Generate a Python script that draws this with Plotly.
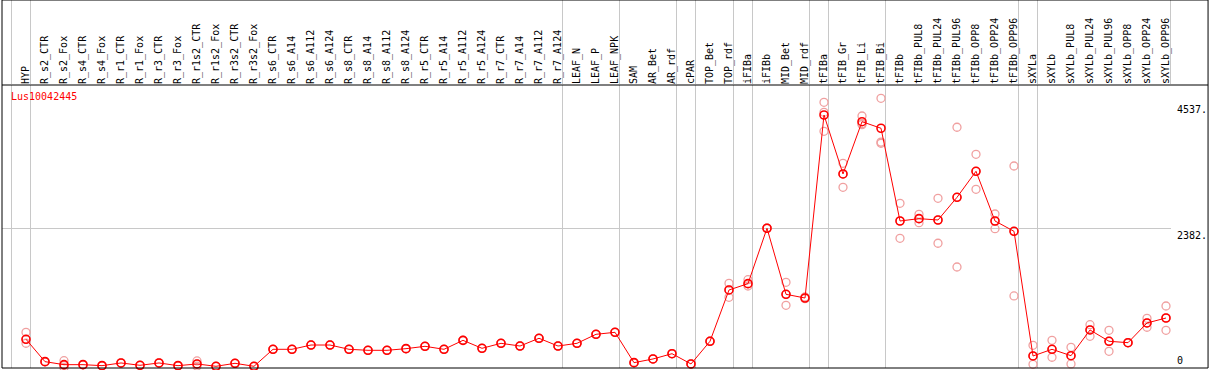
import plotly.graph_objects as go

categories = ["HYP", "R_s2_CTR", "R_s2_Fox", "R_s4_CTR", "R_s4_Fox", "R_r1_CTR", "R_r1_Fox",
              "R_r3_CTR", "R_r3_Fox", "R_r1s2_CTR", "R_r1s2_Fox", "R_r3s2_CTR", "R_r3s2_Fox",
              "R_s6_CTR", "R_s6_A14", "R_s6_A112", "R_s6_A124", "R_s8_CTR", "R_s8_A14", "R_s8_A112",
              "R_s8_A124", "R_r5_CTR", "R_r5_A14", "R_r5_A112", "R_r5_A124", "R_r7_CTR", "R_r7_A14",
              "R_r7_A112", "R_r7_A124", "LEAF_N", "LEAF_P", "LEAF_NPK", "SAM", "AR_Bet", "AR_rdf",
              "cPAR", "TOP_Bet", "TOP_rdf", "iFIBa", "iFIBb", "MID_Bet", "MID_rdf", "tFIBa",
              "tFIB_Gr", "tFIB_Li", "tFIB_Bi", "tFIBb", "tFIBb_PUL8", "tFIBb_PUL24", "tFIBb_PUL96",
              "tFIBb_OPP8", "tFIBb_OPP24", "tFIBb_OPP96", "sXYLa", "sXYLb", "sXYLb_PUL8",
              "sXYLb_PUL24", "sXYLb_PUL96", "sXYLb_OPP8", "sXYLb_OPP24", "sXYLb_OPP96"]

mean_values = [488, 106, 55, 55, 38, 84, 44, 84, 38, 67, 27, 78, 27,
               317, 317, 390, 390, 317, 300, 300, 328, 368, 317, 470, 334, 419, 373, 505, 373,
               419, 573, 607, 89, 152, 242, 67, 454, 1329, 1437, 2382, 1255, 1192,
               4314, 3308, 4200, 4088, 2506, 2546, 2523, 2910, 3354, 2506, 2330,
               203, 317, 208, 647, 454, 430, 766, 851]

replicate_values = [
    [607, 488, 420], [106, 106, 106], [123, 40, 5], [55, 55, 55], [38, 38, 38],
    [84, 84, 84], [44, 44, 44], [84, 84, 84], [38, 38, 38], [118, 67, 30],
    [27, 27, 27], [78, 78, 78], [27, 27, 27], [317, 317, 317], [317, 317, 317],
    [390, 390, 390], [390, 390, 390], [317, 317, 317], [300, 300, 300], [300, 300, 300],
    [328, 328, 328], [368, 368, 368], [317, 317, 317], [470, 470, 470], [334, 334, 334],
    [419, 419, 419], [373, 373, 373], [505, 505, 505], [373, 373, 373], [419, 419, 419],
    [573, 573, 573], [607, 607, 607], [89, 89, 89], [152, 152, 152], [242, 242, 242],
    [67, 67, 67], [454, 454, 454], [1443, 1329, 1204], [1505, 1437, 1397], [2382, 2382, 2382],
    [1460, 1255, 1068], [1210, 1192, 1180], [4531, 4360, 4036], [3490, 3308, 3081],
    [4297, 4166, 4150], [4599, 3852, 3832], [2808, 2506, 2211], [2620, 2546, 2477],
    [2893, 2523, 2126], [4105, 2910, 1721], [3644, 3354, 3047], [2625, 2506, 2375],
    [3444, 2330, 1227], [385, 203, 61], [470, 317, 181], [351, 208, 67], [737, 647, 539],
    [641, 454, 283], [430, 430, 430], [846, 766, 693], [1056, 851, 641]]

# group separators drawn just after these category indices
group_ends = [-1, 0, 28, 31, 34, 35, 37, 38, 41, 42, 45, 52, 53, 60]
y_tick_values = [0, 2382, 4537]
y_tick_text = ["0", "2382.", "4537."]
gene_name = "Lus10042445"

FONT = "DejaVu Sans Mono"
GREY = "#c8c8c8"
RED = "#ff0000"
PINK = "#f0a0a0"

idx = list(range(len(categories)))
rep_x, rep_y = [], []
for i, reps in enumerate(replicate_values):
    for v in reps:
        rep_x.append(i)
        rep_y.append(v)

fig = go.Figure()
fig.add_trace(go.Scatter(
    x=rep_x, y=rep_y, mode="markers", cliponaxis=False,
    marker=dict(symbol="circle-open", size=8, color=PINK, line=dict(width=1.3, color=PINK)),
    showlegend=False, hoverinfo="skip"))
fig.add_trace(go.Scatter(
    x=idx, y=mean_values, mode="lines+markers", cliponaxis=False,
    line=dict(color=RED, width=1),
    marker=dict(symbol="circle-open", size=8, color=RED, line=dict(width=1.6, color=RED)),
    showlegend=False))
# invisible trace to activate the separator axis
fig.add_trace(go.Scatter(x=[0], y=[0], xaxis="x2", mode="markers",
                         marker=dict(opacity=0), showlegend=False, hoverinfo="skip"))

x_range = [-1.263, 60.263]
sep_vals = [g + 0.25 for g in group_ends]

fig.update_layout(
    width=1209, height=370,
    margin=dict(l=2, r=38, t=85, b=2, autoexpand=False),
    paper_bgcolor="white", plot_bgcolor="white",
    font=dict(family=FONT, size=10, color="black"),
    xaxis=dict(range=x_range, tickmode="array", tickvals=idx, ticktext=categories,
               side="top", tickangle=-90, ticks="", showgrid=False, zeroline=False,
               showline=False, automargin=False,
               tickfont=dict(family=FONT, size=10, color="black")),
    xaxis2=dict(range=x_range, overlaying="x", side="top", anchor="y", automargin=False,
                tickmode="array", tickvals=sep_vals, showticklabels=False,
                ticks="outside", ticklen=85, tickcolor=GREY, tickwidth=1,
                showgrid=True, gridcolor=GREY, gridwidth=1, zeroline=False, showline=False),
    yaxis=dict(range=[-2, 4826], tickmode="array", tickvals=[y_tick_values[1]],
               showticklabels=False, ticks="", showgrid=True, gridcolor=GREY,
               gridwidth=1, zeroline=False, showline=False, automargin=False),
)

# y labels on the right
for v, t in zip(y_tick_values, y_tick_text):
    fig.add_annotation(x=1.0, xref="paper", y=v, yref="y", text=t, showarrow=False,
                       xanchor="left", xshift=4,
                       yanchor="bottom" if v == 0 else "top",
                       font=dict(family=FONT, size=10, color="black"))

fig.add_annotation(x=0.006, xref="paper", y=0.958, yref="paper", text=gene_name,
                   showarrow=False, xanchor="left", yanchor="middle",
                   font=dict(family=FONT, size=10, color=RED))

# black frame
fig.add_shape(type="rect", xref="paper", yref="paper", x0=0, x1=1.0317, y0=0, y1=1.3004,
              line=dict(color="black", width=1))
fig.add_shape(type="line", xref="paper", yref="paper", x0=0, x1=1.0317, y0=1, y1=1,
              line=dict(color="black", width=1))

fig.write_html("out.html", config={"displayModeBar": False},
               post_script="document.body.style.margin='0px';document.body.style.overflow='hidden';")
